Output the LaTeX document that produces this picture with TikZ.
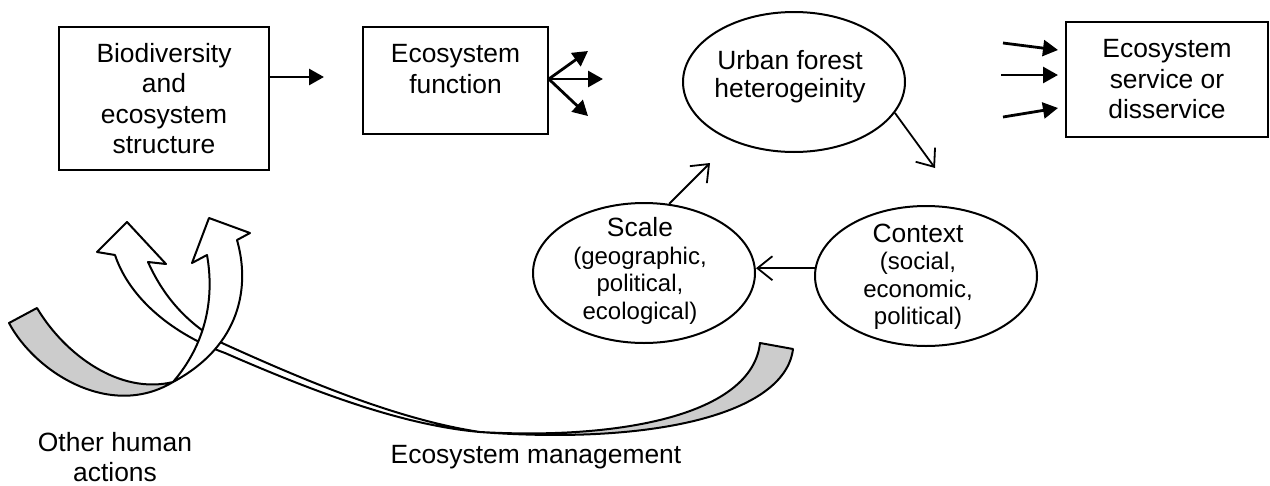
\documentclass[tikz,border=0pt]{standalone}
\usepackage{fontspec}
\setmainfont{Liberation Sans}
\usetikzlibrary{arrows.meta,shapes.geometric}

\begin{document}
\begin{tikzpicture}[x=1pt,y=-1pt,
  box/.style={draw,line width=1.6pt,inner sep=0pt,align=center},
  oval/.style={draw,ellipse,line width=2pt,inner sep=0pt,
               minimum width=222pt,minimum height=140pt},
  big/.style={font=\fontsize{26.4}{30.5}\selectfont,align=center},
  small/.style={font=\fontsize{24}{27.5}\selectfont,align=center},
  solidarrow/.style={line width=2.8pt,-{Triangle[length=15pt,width=16pt]}},
  thinarrow/.style={line width=1.8pt,-{Straight Barb[length=15pt,width=24pt]}},
  ribbon/.style={draw,line width=2pt,line join=round},
  backside/.style={fill=black!20}]

\useasboundingbox (0,0) rectangle (1270,485);

% ---- top row ----
\node[box,big,minimum width=210pt,minimum height=143pt] (struct) at (164,98.5)
  {Biodiversity\\and\\ecosystem\\structure};
\node[box,minimum width=185pt,minimum height=107pt] (func) at (455.5,80.5) {};
\node[big] (functxt) at (455.5,69) {Ecosystem\\function};
\node[box,big,minimum width=202pt,minimum height=115pt] (service) at (1167,79.5)
  {Ecosystem\\service or\\disservice};

\node[oval] (urban) at (794,82) {};
\node[font=\fontsize{26.4}{28}\selectfont,align=center] (urbantxt) at (790,77)
  {Urban forest\\heterogeinity};

% ---- cycle ----
\node[oval] (scale) at (644,273) {};
\node[small] (scaletxt) at (640,271)
  {{\fontsize{26.4}{30}\selectfont Scale}\\(geographic,\\political,\\ecological)};
\node[oval] (context) at (926,276) {};
\node[small] (contexttxt) at (918,277)
  {{\fontsize{26.4}{30}\selectfont Context}\\(social,\\economic,\\political)};

% free arrow ends
\coordinate (a1) at (324,77);
\coordinate (f1) at (588,51);
\coordinate (f2) at (603,79);
\coordinate (f3) at (588,116);
\coordinate (s1) at (1003,43);
\coordinate (s2) at (1001,75);
\coordinate (s3) at (1003,117);
\coordinate (e1) at (1058,50);
\coordinate (e2) at (1058,75);
\coordinate (e3) at (1058,108);
\coordinate (uc) at (935,168);
\coordinate (su) at (710,163);

\draw[solidarrow] (struct.east |- a1) -- (a1);
\draw[solidarrow] (func.east |- f2) -- (f1);
\draw[solidarrow] (func.east |- f2) -- (f2);
\draw[solidarrow] (func.east |- f2) -- (f3);
\draw[solidarrow] (s1) -- (e1);
\draw[solidarrow] (s2) -- (e2);
\draw[solidarrow] (s3) -- (e3);

\draw[thinarrow] (urban.-17) -- (uc);
\draw[thinarrow] (context.176) -- (context.176 -| scale.east);
\draw[thinarrow] (scale.70) -- (su);

% ---- ecosystem management ribbon arrow ----
\draw[ribbon,backside] (480,432) .. controls (650,445) and (785,415) .. (793,349)
  -- (760,343) .. controls (752,415) and (620,440) .. (480,432) -- cycle;
\draw[ribbon,fill=white] (115,255) .. controls (130,300) and (175,335) .. (225,353)
  .. controls (310,390) and (400,425) .. (480,432)
  .. controls (400,420) and (310,383) .. (222,343)
  .. controls (190,325) and (165,300) .. (148,262)
  -- (166,264) -- (127,222) -- (97,252) -- cycle;

% ---- other human actions ribbon arrow ----
\draw[ribbon,backside] (173,382) .. controls (110,420) and (35,372) .. (9,323)
  -- (37,308) .. controls (65,355) and (120,395) .. (173,382) -- cycle;
\draw[ribbon,fill=white] (173,382) .. controls (242,345) and (250,285) .. (237,240)
  -- (250,233) -- (209,218) -- (192,263) -- (207,255)
  .. controls (215,300) and (205,345) .. (173,382) -- cycle;

\node[big] (other) at (115,457) {Other human\\actions};
\node[big] (mgmt) at (536,457) {Ecosystem management};

\end{tikzpicture}
\end{document}
